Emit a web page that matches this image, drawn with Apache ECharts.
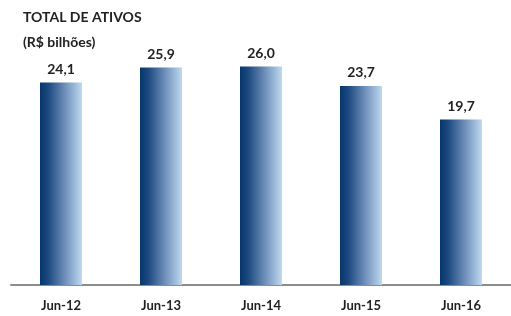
<!DOCTYPE html>
<html>
<head>
<meta charset="utf-8">
<script src="https://cdn.jsdelivr.net/npm/echarts@6/dist/echarts.min.js"></script>
<style>
  html, body { margin: 0; padding: 0; background: #fff; }
  #mychart { width: 511px; height: 316px; }
</style>
</head>
<body>
<div id="mychart"></div>
<script>
// dados
let categories = ['Jun-12', 'Jun-13', 'Jun-14', 'Jun-15', 'Jun-16'];
let values = [24.1, 25.9, 26.0, 23.7, 19.7];

let font = 'Lato, "Open Sans", sans-serif';

let barGradient = new echarts.graphic.LinearGradient(0, 0, 1, 0, [
  { offset: 0, color: '#06366b' },
  { offset: 0.2, color: '#1d4a80' },
  { offset: 0.6, color: '#6f90bb' },
  { offset: 1, color: '#bfd9f0' },
]);

let option = {
  animation: false,
  title: [
    {
      text: 'TOTAL DE ATIVOS',
      left: 18,
      top: 5,
      textStyle: { fontFamily: font, fontWeight: 'bold', fontSize: 14, color: '#222' },
    },
    {
      text: '(R$ bilhões)',
      left: 18,
      top: 30,
      textStyle: { fontFamily: font, fontWeight: 'bold', fontSize: 14, color: '#222' },
    },
  ],
  grid: { left: 11, right: 0, top: 33, bottom: 31 },
  xAxis: {
    type: 'category',
    data: categories,
    axisLine: { lineStyle: { color: '#8c8c8c', width: 2 } },
    axisTick: { show: false },
    axisLabel: {
      margin: 14,
      fontFamily: font,
      fontWeight: 'bold',
      fontSize: 13,
      color: '#222',
    },
  },
  yAxis: {
    type: 'value',
    min: 0,
    max: 30,
    show: false,
  },
  series: [
    {
      type: 'bar',
      data: values,
      barWidth: 42,
      itemStyle: { color: barGradient },
      label: {
        show: true,
        position: 'top',
        distance: 6,
        formatter: (p) => p.value.toFixed(1).replace('.', ','),
        fontFamily: font,
        fontWeight: 'bold',
        fontSize: 14,
        color: '#222',
      },
    },
  ],
};

let myChart = echarts.init(document.getElementById('mychart'));
myChart.setOption(option);
</script>
</body>
</html>
